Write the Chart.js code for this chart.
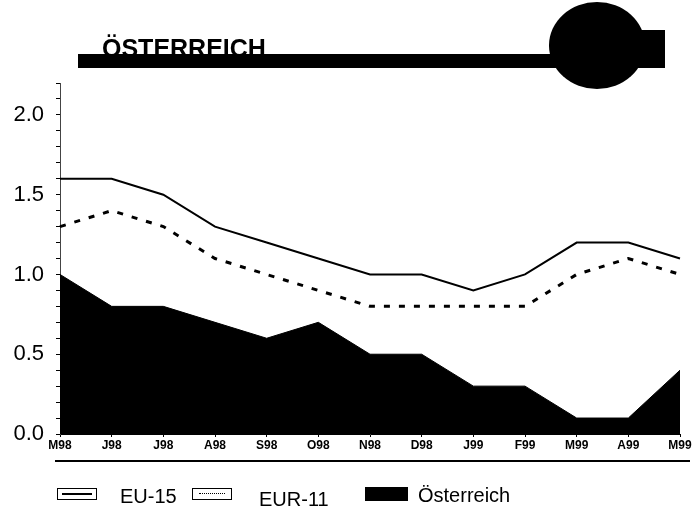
<!DOCTYPE html>
<html>
<head>
<meta charset="utf-8">
<script src="https://cdn.jsdelivr.net/npm/chart.js@4"></script>
<style>
    body { margin: 0; background: #fff; }
    #wrap { position: relative; width: 695px; height: 513px; font-family: 'Liberation Sans', Arial, sans-serif; }
    #c { position: absolute; left: 0; top: 0; }
    .abs { position: absolute; }
    .box { position: absolute; box-sizing: border-box; border: 1.5px solid #000; }
    .lbl { position: absolute; font-size: 20px; color: #000; line-height: 20px; }
</style>
</head>
<body>
<div id="wrap">
    <canvas id="c" width="695" height="513"></canvas>

    <!-- başlık bandı -->
    <div class="abs" style="left:102px;top:36px;font-weight:bold;font-size:25px;line-height:25px;">ÖSTERREICH</div>
    <div class="abs" style="left:78px;top:54px;width:587px;height:14px;background:#000;"></div>
    <div class="abs" style="left:620px;top:30px;width:45px;height:38px;background:#000;"></div>
    <div class="abs" style="left:549px;top:2px;width:96px;height:87px;border-radius:50%;background:#000;"></div>

    <!-- lejant -->
    <div class="abs" style="left:55px;top:460px;width:635px;height:2px;background:#000;"></div>
    <div class="box" style="left:57px;top:488px;width:40px;height:12px;">
        <div class="abs" style="left:4px;right:4px;top:3.5px;height:2px;background:#000;"></div>
    </div>
    <div class="lbl" style="left:120px;top:486px;">EU-15</div>
    <div class="box" style="left:192px;top:488px;width:40px;height:12px;">
        <div class="abs" style="left:6px;right:6px;top:4px;border-top:1px dotted #000;"></div>
    </div>
    <div class="lbl" style="left:259px;top:489px;">EUR-11</div>
    <div class="abs" style="left:365px;top:487px;width:43px;height:14px;background:#000;"></div>
    <div class="lbl" style="left:418px;top:485px;">Österreich</div>
</div>

<script>
// Kategoriler ve seriler
const aylar = ['M98', 'J98', 'J98', 'A98', 'S98', 'O98', 'N98', 'D98', 'J99', 'F99', 'M99', 'A99', 'M99'];
const eu15 = [1.6, 1.6, 1.5, 1.3, 1.2, 1.1, 1.0, 1.0, 0.9, 1.0, 1.2, 1.2, 1.1];
const eur11 = [1.3, 1.4, 1.3, 1.1, 1.0, 0.9, 0.8, 0.8, 0.8, 0.8, 1.0, 1.1, 1.0];
const oesterreich = [1.0, 0.8, 0.8, 0.7, 0.6, 0.7, 0.5, 0.5, 0.3, 0.3, 0.1, 0.1, 0.4];
const yEtiketleri = [0, 0.5, 1, 1.5, 2];

const ctx = document.getElementById('c').getContext('2d');

window.grafik = new Chart(ctx, {
    type: 'line',
    data: {
        labels: aylar,
        datasets: [
            {
                label: 'EU-15',
                data: eu15,
                borderColor: '#000',
                borderWidth: 2,
                pointRadius: 0,
                fill: false,
                tension: 0
            },
            {
                label: 'EUR-11',
                data: eur11,
                borderColor: '#000',
                borderWidth: 3,
                borderDash: [6, 9],
                pointRadius: 0,
                fill: false,
                tension: 0
            },
            {
                label: 'Österreich',
                data: oesterreich,
                borderColor: '#000',
                backgroundColor: '#000',
                borderWidth: 1,
                pointRadius: 0,
                fill: 'origin',
                tension: 0
            }
        ]
    },
    options: {
        responsive: false,
        animation: false,
        layout: { padding: { top: 83, right: 15, left: 0, bottom: 0 } },
        plugins: {
            legend: { display: false },
            tooltip: { enabled: false }
        },
        scales: {
            x: {
                offset: false,
                grid: { drawOnChartArea: false, drawTicks: true, tickLength: 3, color: '#000' },
                border: { display: true, color: '#000', width: 1 },
                ticks: {
                    color: '#000',
                    maxRotation: 0,
                    autoSkip: false,
                    padding: 1,
                    font: { family: "'Liberation Sans Narrow', 'Liberation Sans', sans-serif", size: 12, weight: 'bold' }
                },
                afterFit: function (scale) { scale.height = 79; }
            },
            y: {
                min: 0,
                max: 2.2,
                grid: { drawOnChartArea: false, drawTicks: true, tickLength: 4, color: '#000' },
                border: { display: true, color: '#444', width: 1 },
                ticks: {
                    stepSize: 0.1,
                    autoSkip: false,
                    color: '#000',
                    padding: 12,
                    font: { family: "'Liberation Sans', Arial, sans-serif", size: 22 },
                    callback: function (value) {
                        const v = Math.round(value * 10) / 10;
                        return yEtiketleri.includes(v) ? v.toFixed(1) : '';
                    }
                },
                afterFit: function (scale) { scale.width = 60; }
            }
        }
    }
});
</script>
</body>
</html>
